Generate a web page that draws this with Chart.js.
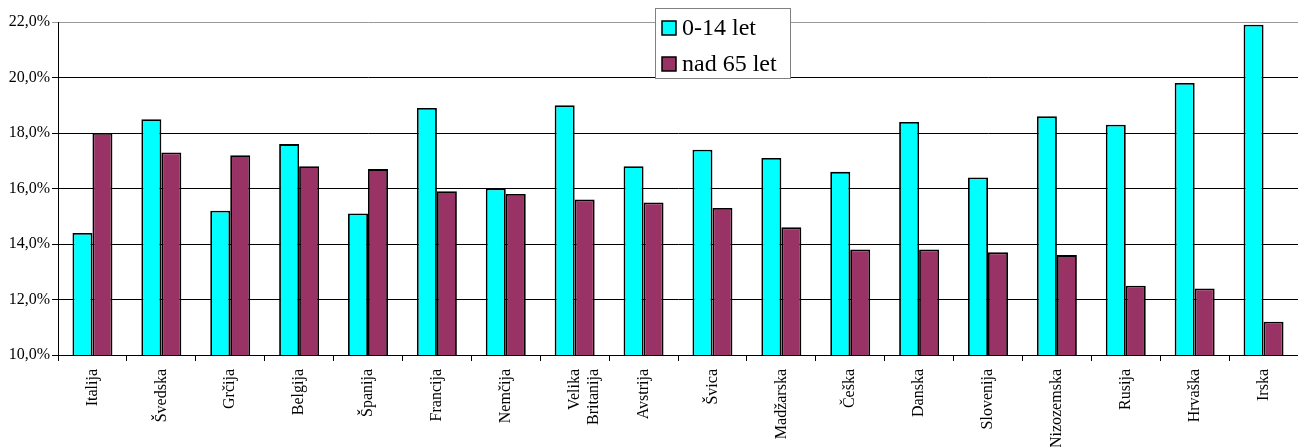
<!DOCTYPE html>
<html lang="sl">
<head>
    <meta charset="UTF-8">
    <title>Delež prebivalstva po starosti</title>
    <script src="https://cdn.jsdelivr.net/npm/chart.js"></script>
    <style>
        body {
            margin: 0;
            background: #ffffff;
        }
        canvas {
            display: block;
        }
    </style>
</head>
<body>
    <canvas id="ageChart" width="1298" height="447"></canvas>

    <script>
        const countries = ['Italija', 'Švedska', 'Grčija', 'Belgija', 'Španija', 'Francija', 'Nemčija',
            ['Velika', 'Britanija'], 'Avstrija', 'Švica', 'Madžarska', 'Češka', 'Danska', 'Slovenija',
            'Nizozemska', 'Rusija', 'Hrvaška', 'Irska'];
        const children = [14.4, 18.5, 15.2, 17.6, 15.1, 18.9, 16.0, 19.0, 16.8, 17.4, 17.1, 16.6, 18.4, 16.4, 18.6, 18.3, 19.8, 21.9];
        const elderly = [18.0, 17.3, 17.2, 16.8, 16.7, 15.9, 15.8, 15.6, 15.5, 15.3, 14.6, 13.8, 13.8, 13.7, 13.6, 12.5, 12.4, 11.2];
        const yTicks = [10, 12, 14, 16, 18, 20, 22];

        const serif = '"Liberation Serif", "Times New Roman", serif';

        // legend box drawn over the top of the plot, like the spreadsheet one
        const boxLegend = {
            id: 'boxLegend',
            afterDraw(chart) {
                const ctx = chart.ctx;
                const x = 655, y = 8, w = 135, h = 70;
                ctx.save();
                ctx.fillStyle = '#ffffff';
                ctx.fillRect(x, y, w, h);
                ctx.strokeStyle = '#808080';
                ctx.lineWidth = 1;
                ctx.strokeRect(x + 0.5, y + 0.5, w, h);
                ctx.font = '24px ' + serif;
                ctx.textBaseline = 'middle';
                chart.data.datasets.forEach((ds, i) => {
                    const cy = y + 20 + i * 36;
                    ctx.fillStyle = ds.backgroundColor;
                    ctx.fillRect(x + 7, cy - 7, 14, 14);
                    ctx.strokeStyle = '#000000';
                    ctx.lineWidth = 1.5;
                    ctx.strokeRect(x + 7, cy - 7, 14, 14);
                    ctx.fillStyle = '#000000';
                    ctx.fillText(ds.label, x + 27, cy + 1);
                });
                ctx.restore();
            }
        };

        new Chart(document.getElementById('ageChart'), {
            type: 'bar',
            data: {
                labels: countries,
                datasets: [{
                    label: '0-14 let',
                    data: children,
                    backgroundColor: '#00ffff',
                    borderColor: '#000000',
                    borderWidth: 1.8
                }, {
                    label: 'nad 65 let',
                    data: elderly,
                    backgroundColor: '#993366',
                    borderColor: '#000000',
                    borderWidth: 1.8
                }]
            },
            options: {
                responsive: false,
                animation: false,
                layout: { padding: { top: 22, right: 0, left: 0, bottom: 0 } },
                datasets: {
                    bar: { categoryPercentage: 0.58, barPercentage: 1.0 }
                },
                plugins: {
                    legend: { display: false },
                    tooltip: { enabled: false }
                },
                scales: {
                    x: {
                        afterFit(scale) { scale.height = 92; },
                        grid: {
                            offset: true,
                            drawOnChartArea: false,
                            color: '#000000',
                            tickLength: 6
                        },
                        border: { color: '#000000', width: 1 },
                        ticks: {
                            color: '#000000',
                            font: { family: serif, size: 16, lineHeight: 1.2 },
                            minRotation: 90,
                            maxRotation: 90,
                            autoSkip: false,
                            padding: 8
                        }
                    },
                    y: {
                        min: yTicks[0],
                        max: yTicks[yTicks.length - 1],
                        afterFit(scale) { scale.width = 58; },
                        afterBuildTicks(scale) {
                            scale.ticks = yTicks.map(v => ({ value: v }));
                        },
                        grid: {
                            color: ctx => (ctx.tick && ctx.tick.value === 22) ? '#9a9a9a' : '#000000',
                            tickLength: 6
                        },
                        border: { color: '#000000', width: 1 },
                        ticks: {
                            color: '#000000',
                            font: { family: serif, size: 16 },
                            padding: 2,
                            callback: v => v.toFixed(1).replace('.', ',') + '%'
                        }
                    }
                }
            },
            plugins: [boxLegend]
        });
    </script>
</body>
</html>
